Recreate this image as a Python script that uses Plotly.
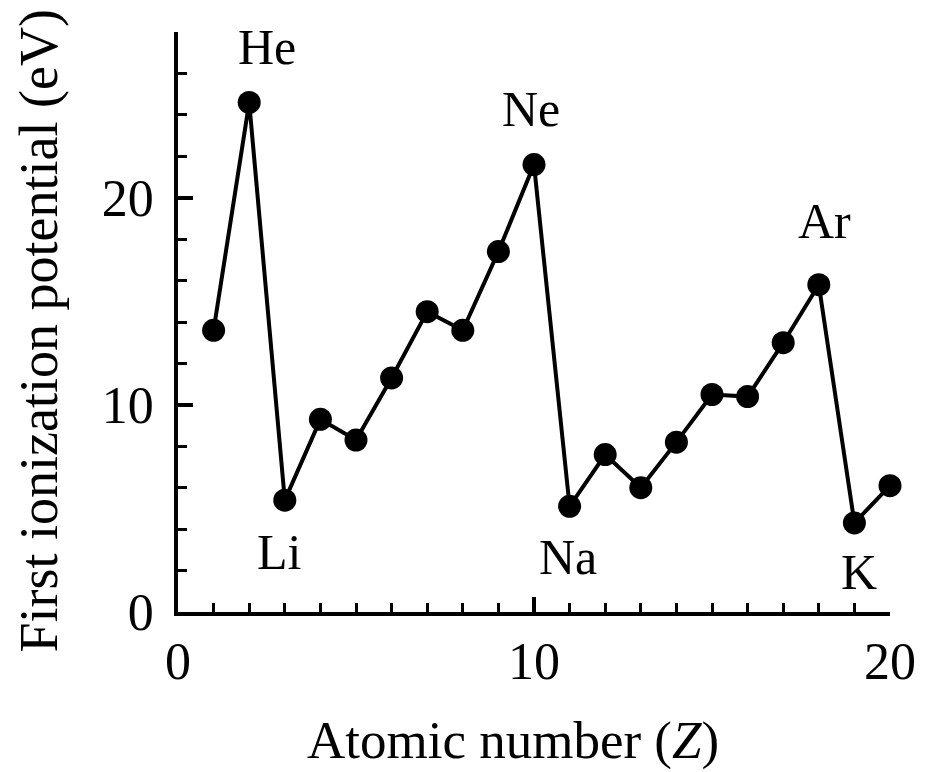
import plotly.graph_objects as go

# Data
atomic_number = list(range(1, 21))
ionization_ev = [13.6, 24.6, 5.4, 9.3, 8.3, 11.3, 14.5, 13.6, 17.4, 21.6,
                 5.1, 7.6, 6.0, 8.2, 10.5, 10.4, 13.0, 15.8, 4.3, 6.1]

label_names = ["He", "Li", "Ne", "Na", "Ar", "K"]
label_z = [2, 3, 10, 11, 18, 19]
# pixel offsets of each label from its point (style)
label_shift = [(18, 55), (-6, -52), (-3, 56), (-2, -51), (6, 64), (5, -49)]

x_ticks = [0, 10, 20]
y_ticks = [0, 10, 20]

FONT = "Liberation Serif"

fig = go.Figure()
fig.add_trace(go.Scatter(
    x=atomic_number, y=ionization_ev, mode="lines+markers",
    line=dict(color="black", width=4),
    marker=dict(color="black", size=23),
    cliponaxis=False, showlegend=False, hoverinfo="x+y",
))

for name, z, (dx, dy) in zip(label_names, label_z, label_shift):
    fig.add_annotation(x=z, y=ionization_ev[z - 1], text=name, showarrow=False,
                       xshift=dx, yshift=dy, xanchor="center", yanchor="middle",
                       font=dict(family=FONT, size=50, color="black"))

fig.add_annotation(xref="paper", yref="paper", x=0.471, y=-0.222,
                   text="Atomic number (<i>Z</i>)", showarrow=False,
                   xanchor="center", yanchor="middle",
                   font=dict(family=FONT, size=53, color="black"))
fig.add_annotation(xref="paper", yref="paper", x=-0.195, y=0.484,
                   text="First ionization potential (eV)", showarrow=False,
                   textangle=-90, xanchor="center", yanchor="middle",
                   font=dict(family=FONT, size=54, color="black"))

fig.update_xaxes(
    range=[0, 20], showline=True, linecolor="black", linewidth=3.5,
    showgrid=False, zeroline=False, ticks="inside", tickvals=x_ticks,
    ticklen=15, tickwidth=3.5, tickcolor="black",
    minor=dict(dtick=1, ticks="inside", ticklen=9, tickwidth=3, tickcolor="black", showgrid=False),
    tickfont=dict(family=FONT, size=52, color="black"), ticklabelstandoff=1,
)
fig.update_yaxes(
    range=[0, 28], showline=True, linecolor="black", linewidth=3.5,
    showgrid=False, zeroline=False, ticks="inside", tickvals=y_ticks,
    ticklen=15, tickwidth=3.5, tickcolor="black",
    minor=dict(dtick=2, ticks="inside", ticklen=9, tickwidth=3, tickcolor="black", showgrid=False),
    tickfont=dict(family=FONT, size=52, color="black"), ticklabelstandoff=10,
)

fig.update_layout(
    width=932, height=772,
    margin=dict(l=178, r=42, t=32, b=160, pad=0),
    paper_bgcolor="white", plot_bgcolor="white",
    font=dict(family=FONT, color="black"),
)

fig.write_html("out.html", config={"displayModeBar": False},
               post_script="document.body.style.margin='0';document.body.style.overflow='hidden';")
